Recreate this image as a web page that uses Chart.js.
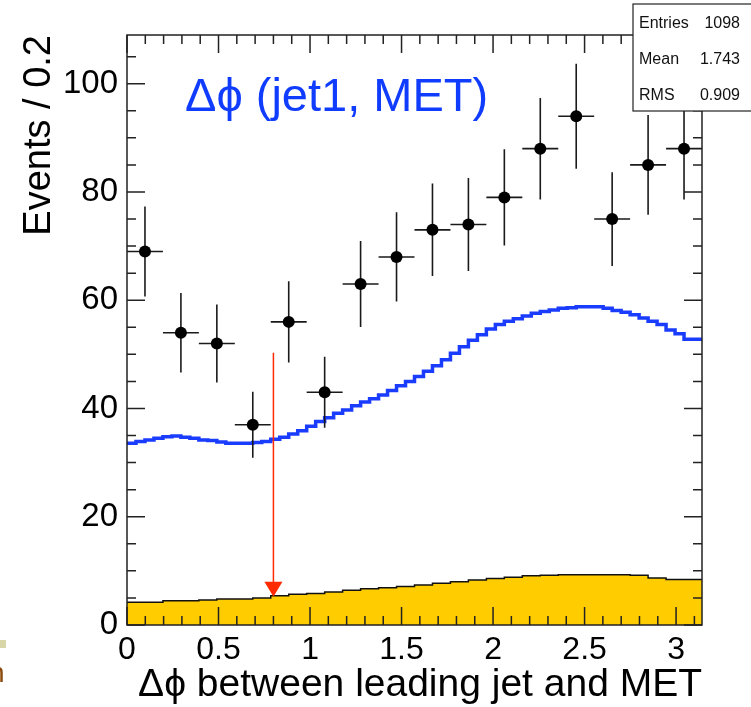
<!DOCTYPE html>
<html>
<head>
<meta charset="utf-8">
<script src="https://cdn.jsdelivr.net/npm/chart.js@4.4.0/dist/chart.umd.min.js"></script>
<style>
html, body { margin: 0; padding: 0; background: #fff; }
</style>
</head>
<body>
<canvas id="plot" width="751" height="707"></canvas>
<script>
// data points (16 bins of pi/16), counts per bin
const dataCounts = [69, 54, 52, 37, 56, 43, 63, 68, 73, 74, 79, 88, 94, 75, 85, 88];

// blue histogram, 64 bins over [0, pi]
const signalMC = [
  33.3, 33.6, 33.9, 34.2, 34.5, 34.8, 34.9, 34.7, 34.5, 34.2,
  34.1, 33.8, 33.6, 33.6, 33.6, 33.7, 33.9, 34.3, 34.7, 35.3,
  35.9, 36.7, 37.6, 38.3, 39.1, 39.7, 40.5, 41.2, 41.8, 42.5,
  43.3, 44.2, 45.0, 45.9, 46.9, 47.9, 49.0, 50.2, 51.4, 52.6,
  53.6, 54.7, 55.5, 56.1, 56.6, 57.1, 57.6, 57.9, 58.2, 58.5,
  58.6, 58.8, 58.8, 58.8, 58.5, 58.1, 57.8, 57.3, 56.7, 56.1,
  55.5, 54.5, 53.8, 52.8
];

// yellow filled histogram, 32 bins over [0, pi]
const bkgMC = [
  4.0, 4.2, 4.2, 4.5, 4.5, 4.6, 4.8, 4.8, 5.0, 5.4,
  5.7, 5.8, 6.1, 6.4, 6.7, 6.9, 7.1, 7.4, 7.7, 8.0,
  8.3, 8.6, 8.8, 9.1, 9.2, 9.3, 9.3, 9.3, 9.3, 9.2,
  8.7, 8.4
];

// cut arrow
const cutX = 0.8;
const cutTop = 50.3;
const cutTip = 5.2;

const statLabels = ['Entries', 'Mean', 'RMS'];
const statValues = ['1098', '1.743', '0.909'];

const FONT = '"Liberation Sans", Arial, Helvetica, sans-serif';
const dataBinWidth = Math.PI / dataCounts.length;

function stepPoints(vals) {
    let w = Math.PI / vals.length;
    let pts = vals.map((v, i) => ({x: i * w, y: v}));
    pts.push({x: Math.PI, y: vals[vals.length - 1]});
    return pts;
}

const rootStyle = {
    id: 'rootStyle',
    beforeDatasetDraw(chart, args) {
        if (args.index !== 0) return;
        let xs = chart.scales.x, ys = chart.scales.y, ctx = chart.ctx;
        ctx.save();
        // red cut arrow
        let ax = xs.getPixelForValue(cutX);
        let tipY = ys.getPixelForValue(cutTip);
        ctx.strokeStyle = '#ff2a00';
        ctx.fillStyle = '#ff2a00';
        ctx.lineWidth = 1.5;
        ctx.beginPath();
        ctx.moveTo(ax, ys.getPixelForValue(cutTop));
        ctx.lineTo(ax, tipY - 10);
        ctx.stroke();
        ctx.beginPath();
        ctx.moveTo(ax, tipY);
        ctx.lineTo(ax - 9, tipY - 15);
        ctx.lineTo(ax + 9, tipY - 15);
        ctx.closePath();
        ctx.fill();
        // error bars
        ctx.strokeStyle = '#1a1a1a';
        ctx.lineWidth = 1.6;
        dataCounts.forEach((n, i) => {
            let xc = (i + 0.5) * dataBinWidth;
            let e = Math.sqrt(n);
            ctx.beginPath();
            ctx.moveTo(xs.getPixelForValue(xc), ys.getPixelForValue(n - e));
            ctx.lineTo(xs.getPixelForValue(xc), ys.getPixelForValue(n + e));
            ctx.moveTo(xs.getPixelForValue(xc - dataBinWidth / 2), ys.getPixelForValue(n));
            ctx.lineTo(xs.getPixelForValue(xc + dataBinWidth / 2), ys.getPixelForValue(n));
            ctx.stroke();
        });
        ctx.restore();
    },
    afterDatasetsDraw(chart) {
        let xs = chart.scales.x, ys = chart.scales.y, ctx = chart.ctx;
        let a = chart.chartArea;
        ctx.save();
        ctx.strokeStyle = '#222';
        ctx.lineWidth = 1.5;
        ctx.strokeRect(a.left, a.top, a.right - a.left, a.bottom - a.top);
        ctx.beginPath();
        // x ticks every 0.1, major every 0.5
        for (let k = 0; k * 0.1 <= Math.PI; k++) {
            let px = xs.getPixelForValue(k * 0.1);
            let len = (k % 5 === 0) ? 18 : 9;
            ctx.moveTo(px, a.bottom); ctx.lineTo(px, a.bottom - len);
            ctx.moveTo(px, a.top); ctx.lineTo(px, a.top + len);
        }
        // y ticks every 5, major every 20
        for (let v = 0; v <= ys.max; v += 5) {
            let py = ys.getPixelForValue(v);
            let len = (v % 20 === 0) ? 18 : 9;
            ctx.moveTo(a.left, py); ctx.lineTo(a.left + len, py);
            ctx.moveTo(a.right, py); ctx.lineTo(a.right - len, py);
        }
        ctx.stroke();
        // plot label
        ctx.fillStyle = '#0f3cff';
        ctx.font = '47px ' + FONT;
        ctx.textBaseline = 'alphabetic';
        ctx.fillText('Δϕ (jet1, MET)', 185, 111);
        ctx.restore();
    },
    afterDraw(chart) {
        let ctx = chart.ctx;
        ctx.save();
        // stats box
        ctx.fillStyle = '#fff';
        ctx.fillRect(633, 4, 130, 107);
        ctx.strokeStyle = '#222';
        ctx.lineWidth = 1.2;
        ctx.strokeRect(633, 4, 130, 107);
        ctx.fillStyle = '#111';
        ctx.font = '16px ' + FONT;
        statLabels.forEach((lab, i) => {
            let y = 28 + i * 36;
            ctx.textAlign = 'left';
            ctx.fillText(lab, 639, y);
            ctx.textAlign = 'right';
            ctx.fillText(statValues[i], 740, y);
        });
        // slide leftovers at bottom-left
        ctx.fillStyle = '#d8d5a8';
        ctx.fillRect(0, 640, 6, 8);
        ctx.fillStyle = '#8a4b0c';
        ctx.textAlign = 'left';
        ctx.font = '28px ' + FONT;
        ctx.fillText('n', -11, 682);
        ctx.restore();
    }
};

function make_chart() {
    let ctx = document.getElementById('plot').getContext('2d');
    new Chart(ctx, {
        type: 'scatter',
        data: {
            datasets: [
                {
                    label: 'data',
                    data: dataCounts.map((n, i) => ({x: (i + 0.5) * dataBinWidth, y: n})),
                    pointRadius: 6,
                    pointBackgroundColor: '#000',
                    pointBorderWidth: 0,
                    showLine: false
                },
                {
                    label: 'signal',
                    data: stepPoints(signalMC),
                    showLine: true,
                    stepped: 'after',
                    borderColor: '#1a3cff',
                    borderWidth: 3.5,
                    pointRadius: 0,
                    fill: false
                },
                {
                    label: 'background',
                    data: stepPoints(bkgMC),
                    showLine: true,
                    stepped: 'after',
                    borderColor: '#111',
                    borderWidth: 1.5,
                    backgroundColor: '#ffcc00',
                    fill: 'origin',
                    pointRadius: 0
                }
            ]
        },
        options: {
            responsive: false,
            animation: false,
            layout: {padding: {top: 35, right: 49, left: 0, bottom: 0}},
            plugins: {legend: {display: false}, tooltip: {enabled: false}},
            scales: {
                x: {
                    type: 'linear', min: 0, max: Math.PI,
                    grid: {display: false, drawTicks: false},
                    border: {display: false},
                    ticks: {
                        stepSize: 0.5, includeBounds: false, padding: 6,
                        color: '#000', font: {family: FONT, size: 32},
                        maxRotation: 0, autoSkip: false,
                        callback: v => String(+v.toFixed(1))
                    },
                    title: {
                        display: true, text: 'Δϕ between leading jet and MET',
                        align: 'end', color: '#000',
                        font: {family: FONT, size: 39, lineHeight: 1.1},
                        padding: {top: 0, bottom: 0}
                    },
                    afterFit(s) { s.height = 82; }
                },
                y: {
                    min: 0, max: 109,
                    grid: {display: false, drawTicks: false},
                    border: {display: false},
                    ticks: {
                        stepSize: 20, includeBounds: false, padding: 9,
                        color: '#000', font: {family: FONT, size: 33}
                    },
                    title: {
                        display: true, text: 'Events / 0.2',
                        align: 'end', color: '#000',
                        font: {family: FONT, size: 38},
                        padding: {top: 17, bottom: 0}
                    },
                    afterFit(s) { s.width = 127; }
                }
            }
        },
        plugins: [rootStyle]
    });
}

make_chart();
</script>
</body>
</html>
